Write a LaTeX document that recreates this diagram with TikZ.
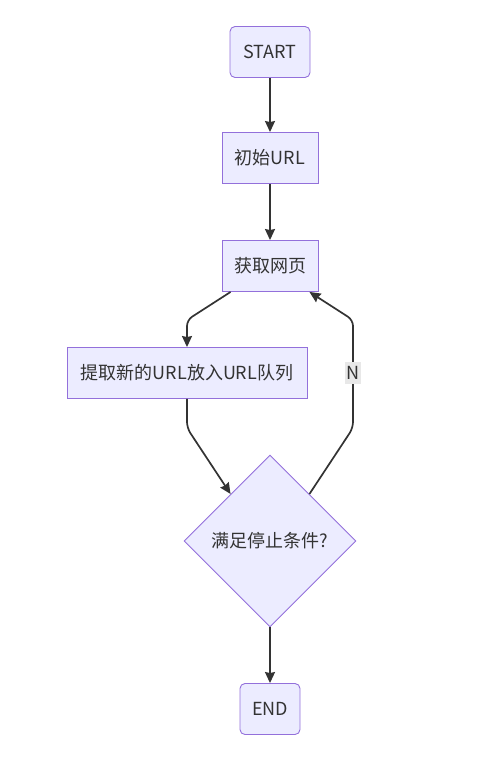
\documentclass[tikz,border=0pt]{standalone}
\usepackage{fontspec}
\setmainfont{Noto Sans CJK SC}
\usetikzlibrary{shapes.geometric,arrows.meta,calc}
\definecolor{boxfill}{HTML}{ECECFF}
\definecolor{boxline}{HTML}{9370DB}
\definecolor{edgeline}{HTML}{333333}
\definecolor{labelbg}{HTML}{E8E8E8}
\begin{document}
\begin{tikzpicture}[x=1pt,y=-1pt]

    \tikzset{
      stepbox/.style={
        draw=boxline,
        fill=boxfill,
        line width=0.9pt,
        text=edgeline,
        font=\fontsize{18}{21}\selectfont,
        minimum height=51pt,
        inner xsep=12pt,
      },
      termbox/.style={
        stepbox,
        rounded corners=5pt,
      },
      decision/.style={
        stepbox,
        diamond,
        aspect=1,
        inner sep=0pt,
        minimum size=172pt,
      },
      flow/.style={
        draw=edgeline,
        line width=1.7pt,
        rounded corners=6pt,
        -{Stealth[length=11pt,width=10pt,inset=1pt]},
      },
    }
    \useasboundingbox (0,0) rectangle (500,767);
	\node[termbox, minimum width=80pt] (start) at (270,52) {START};
	\node[stepbox, minimum width=96pt] (init) at (270,158) {初始URL};
	\node[stepbox, minimum width=96pt] (fetch) at (270,266) {获取网页};
	\node[stepbox, minimum width=240pt] (extract) at (187,373) {提取新的URL放入URL队列};
	\node[decision] (cond) at (270,541) {满足停止条件?};
	\node[termbox, minimum width=60pt] (finish) at (270,709) {END};
	\draw[flow] (start) -- (init);
	\draw[flow] (init) -- (fetch);
	\draw[flow] ($(fetch.south west)+(9,0)$) -- (187,320) -- (extract.north);
	\draw[flow] (extract.south) -- (187,428) -- (cond.130);
	\draw[flow] (cond.50) -- (353,428) -- (353,320) -- ($(fetch.south east)+(-9,0)$);
	\node[fill=labelbg, text=edgeline, inner xsep=1pt, inner ysep=4pt, font=\fontsize{18}{21}\selectfont] (no) at (353,373) {N};
	\draw[flow] (cond) -- (finish);

\end{tikzpicture}
\end{document}
